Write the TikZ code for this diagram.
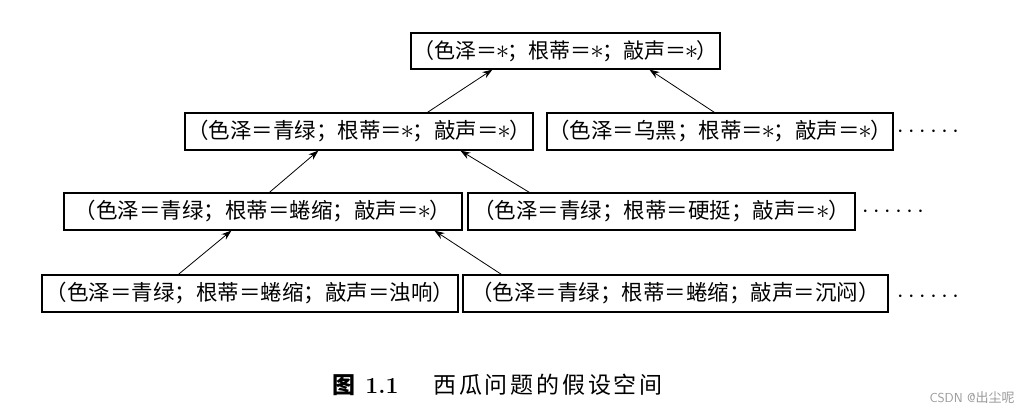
\documentclass[tikz,border=0pt]{standalone}
\usepackage{fontspec}
\newfontfamily\cjk{Noto Sans CJK SC}
\newfontfamily\capcjk[LetterSpace=12]{Noto Sans CJK SC}
\usetikzlibrary{arrows.meta}
\newcommand{\hstar}{\makebox[0.5em]{\scalebox{1.3}{$\ast$}}}
\begin{document}
\begin{tikzpicture}[x=1pt,y=-1pt,
  box/.style={draw,line width=1.2pt,inner sep=0pt,minimum height=37pt,
    font=\cjk\fontsize{21.5}{25}\selectfont},
  arr/.style={-{Stealth[length=10pt,width=7pt]},line width=0.8pt},
  dotsnode/.style={font=\fontsize{25}{30}\selectfont},
  captext/.style={font=\fontsize{23}{27}\selectfont}]
\useasboundingbox[fill=white] (0,0) rectangle (1035,417);
% boxes
\node[box,minimum width=309pt,minimum height=36pt,font=\cjk\fontsize{21}{25}\selectfont] (b1) at (565.5,51) {（色泽＝\hstar；根蒂＝\hstar；敲声＝\hstar）};
\node[box,minimum width=348pt] (b2a) at (359,131.5) {（色泽＝青绿；根蒂＝\hstar；敲声＝\hstar）};
\node[box,minimum width=346pt] (b2b) at (720,131.5) {（色泽＝乌黑；根蒂＝\hstar；敲声＝\hstar）};
\node[box,minimum width=398pt] (b3a) at (263,211.5) {（色泽＝青绿；根蒂＝蜷缩；敲声＝\hstar）};
\node[box,minimum width=387pt] (b3b) at (661.5,211.5) {（色泽＝青绿；根蒂＝硬挺；敲声＝\hstar）};
\node[box,minimum width=416pt] (b4a) at (250,293.5) {（色泽＝青绿；根蒂＝蜷缩；敲声＝浊响）};
\node[box,minimum width=425pt] (b4b) at (675.5,293.5) {（色泽＝青绿；根蒂＝蜷缩；敲声＝沉闷）};
% dots
\node[dotsnode] (d2) at (928,132) {$\cdots\cdots$};
\node[dotsnode] (d3) at (893,212) {$\cdots\cdots$};
\node[dotsnode] (d4) at (928,297) {$\cdots\cdots$};
% arrows
\draw[arr] ([xshift=243pt]b2a.north west) -- ([xshift=82pt]b1.south west);
\draw[arr] ([xshift=168pt]b2b.north west) -- ([xshift=239pt]b1.south west);
\draw[arr] ([xshift=206pt]b3a.north west) -- ([xshift=134pt]b2a.south west);
\draw[arr] ([xshift=62pt]b3b.north west) -- ([xshift=276pt]b2a.south west);
\draw[arr] ([xshift=137pt]b4a.north west) -- ([xshift=168pt]b3a.south west);
\draw[arr] ([xshift=39pt]b4b.north west) -- ([xshift=371pt]b3a.south west);
% caption
\node[captext] (c1) at (344,385) {\cjk\bfseries 图};
\node[captext] (c2) at (382,386) {\bfseries 1.1};
\node[captext] (c3) at (548,385) {\capcjk 西瓜问题的假设空间};
% watermark
\node[text=gray!80,font=\sffamily\fontsize{13}{15}\selectfont] (wm) at (972,398) {CSDN @{\cjk 出尘呢}};
\end{tikzpicture}
\end{document}
